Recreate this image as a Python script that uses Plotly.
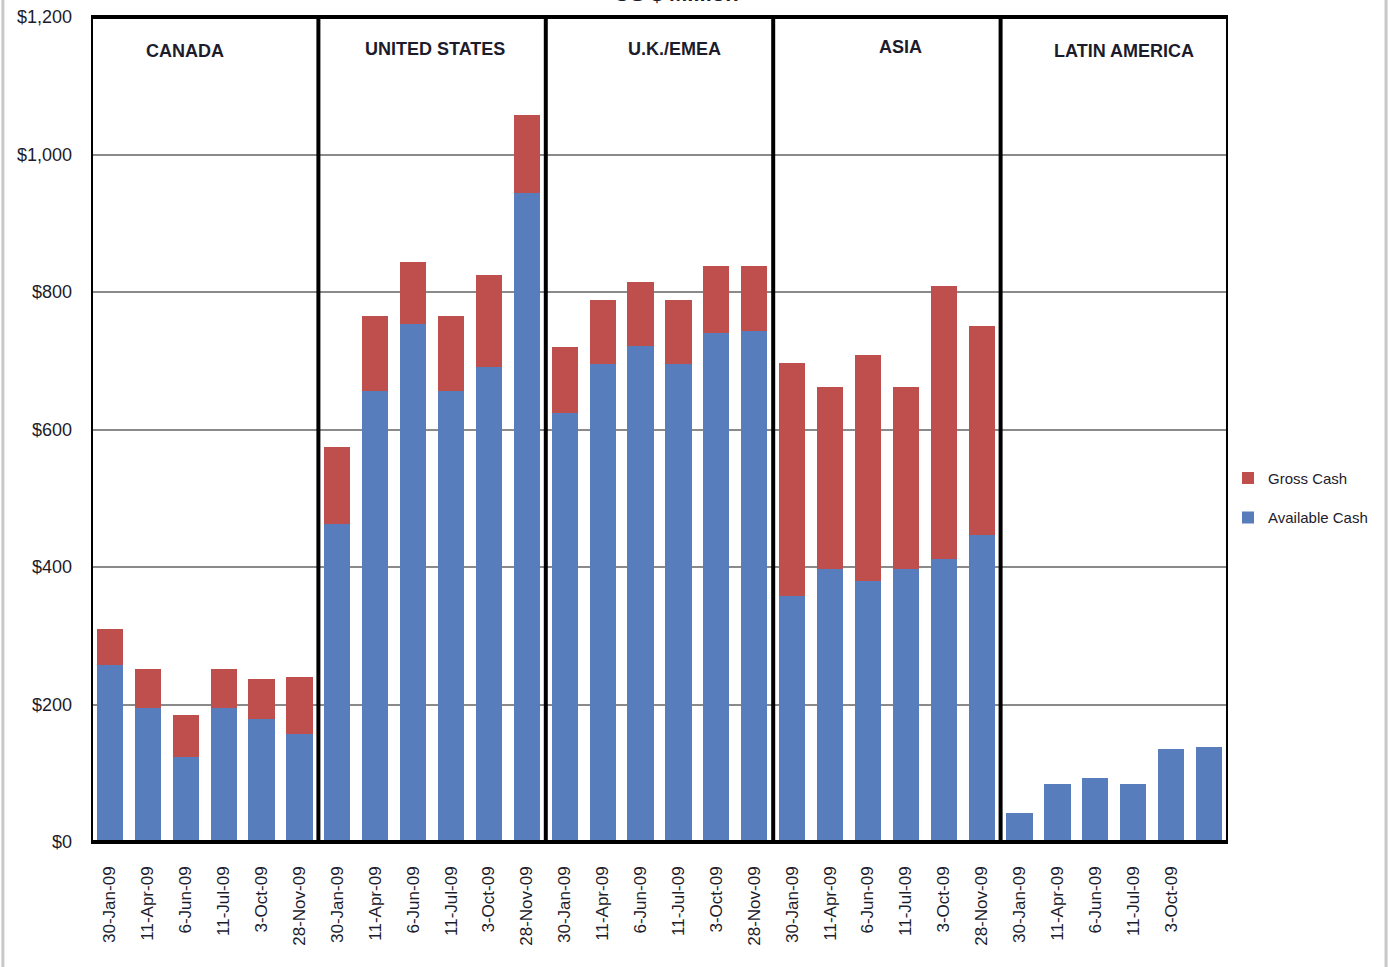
import plotly.graph_objects as go

# Cash position by region, US $ million
regions = ["CANADA", "UNITED STATES", "U.K./EMEA", "ASIA", "LATIN AMERICA"]
dates = ["30-Jan-09", "11-Apr-09", "6-Jun-09", "11-Jul-09", "3-Oct-09", "28-Nov-09"]

available_cash = {
    "CANADA":        [257, 195, 124, 195, 179, 157],
    "UNITED STATES": [463, 656, 753, 656, 691, 944],
    "U.K./EMEA":     [624, 695, 721, 695, 740, 743],
    "ASIA":          [358, 397, 380, 397, 412, 447],
    "LATIN AMERICA": [42, 84, 93, 84, 135, 138],
}
gross_cash = {
    "CANADA":        [310, 252, 185, 252, 237, 240],
    "UNITED STATES": [575, 765, 844, 765, 825, 1057],
    "U.K./EMEA":     [720, 788, 815, 788, 838, 838],
    "ASIA":          [697, 662, 708, 662, 809, 751],
    "LATIN AMERICA": [42, 84, 93, 84, 135, 138],
}
y_ticks = [0, 200, 400, 600, 800, 1000, 1200]

BLUE = "#587DBD"
RED = "#BE4F4D"
TEXT = "#1c1c2c"
FONT = "Liberation Sans, Arial, sans-serif"

xpos, avail, extra, ticktext = [], [], [], []
for r_i, region in enumerate(regions):
    for d_i, d in enumerate(dates):
        xpos.append(r_i * len(dates) + d_i)
        a = available_cash[region][d_i]
        g = gross_cash[region][d_i]
        avail.append(a)
        extra.append(g - a)
        ticktext.append(d)

# the last Latin America date label is not printed on the axis
tickvals = xpos[:-1]
ticktext = ticktext[:-1]

fig = go.Figure()
fig.add_trace(go.Bar(x=xpos, y=avail, name="Available Cash", marker_color=BLUE,
                     marker_line_width=0, legendgroup="avail", legendrank=2))
fig.add_trace(go.Bar(x=xpos, y=extra, name="Gross Cash", marker_color=RED,
                     marker_line_width=0, legendgroup="gross", legendrank=1))

n = len(xpos)
shapes = []
# frame around the plot area
shapes.append(dict(type="rect", xref="x", yref="paper", x0=-0.5, x1=n - 0.5, y0=0, y1=1,
                   line=dict(color="black", width=4), layer="above"))
# dividers between regions
for k in range(1, len(regions)):
    xv = k * len(dates) - 0.5
    shapes.append(dict(type="line", xref="x", yref="paper", x0=xv, x1=xv, y0=0, y1=1,
                       line=dict(color="black", width=4), layer="above"))
# page edges
for xp in (-0.0775, 1.1390):
    shapes.append(dict(type="line", xref="paper", yref="paper", x0=xp, x1=xp,
                       y0=-0.16, y1=1.03, line=dict(color="#c8c8c8", width=3)))

annotations = []
label_x = [1.98, 8.58, 14.9, 20.87, 26.75]
label_y = [1150, 1153, 1153, 1156, 1150]
for region, lx, ly in zip(regions, label_x, label_y):
    annotations.append(dict(x=lx, y=ly, xref="x", yref="y", text=region, showarrow=False,
                            font=dict(family=FONT, size=18, color=TEXT, weight="bold"),
                            xanchor="center", yanchor="middle"))
annotations.append(dict(x=0.515, y=1.0109, xref="paper", yref="paper", text="US $ Million",
                        showarrow=False, yanchor="bottom", xanchor="center",
                        font=dict(family=FONT, size=22, color=TEXT, weight="bold")))

fig.update_layout(
    width=1389, height=967,
    margin=dict(l=91, r=161, t=17, b=125),
    paper_bgcolor="white", plot_bgcolor="white",
    barmode="stack", bargap=0.31,
    font=dict(family=FONT, color=TEXT),
    shapes=shapes, annotations=annotations,
    legend=dict(x=1.0, y=0.461, xanchor="left", yanchor="top",
                traceorder="grouped", tracegroupgap=17,
                font=dict(family=FONT, size=15, color=TEXT),
                itemwidth=30, bgcolor="rgba(0,0,0,0)"),
    xaxis=dict(range=[-0.5, n - 0.5], tickmode="array", tickvals=tickvals, ticktext=ticktext,
               tickangle=-90, tickfont=dict(family=FONT, size=17, color=TEXT),
               showgrid=False, zeroline=False, showline=False, ticks="",
               ticklabelstandoff=20, automargin=False),
    yaxis=dict(range=[0, 1200], tickmode="array", tickvals=y_ticks,
               ticktext=["$" + format(v, ",") for v in y_ticks],
               showgrid=True, gridcolor="#8a8a8a", gridwidth=1.5,
               zeroline=False, showline=False, ticks="", automargin=False,
               tickfont=dict(family=FONT, size=18, color=TEXT), ticklabelstandoff=18),
)

fig.write_html("out.html")
